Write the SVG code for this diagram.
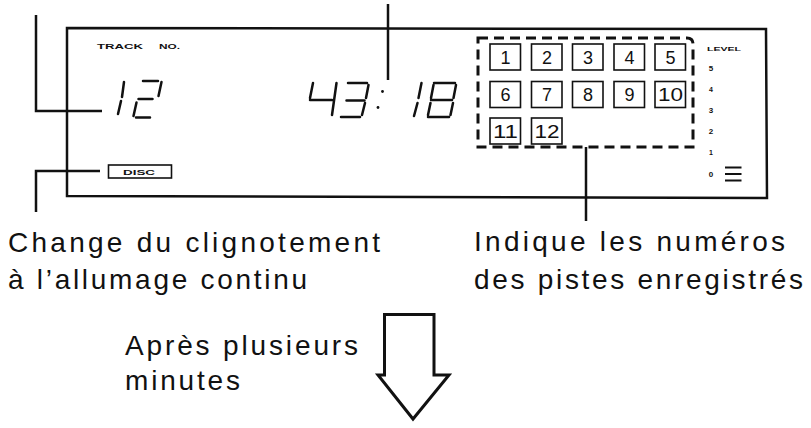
<svg xmlns="http://www.w3.org/2000/svg" width="811" height="428" viewBox="0 0 811 428">
<style>
.ln{stroke:#111;stroke-width:2.5;fill:none}
.seg{stroke:#111;stroke-width:2.5;stroke-linecap:round;fill:none}
.nb{stroke:#111;stroke-width:1.6;fill:none}
.num{font-family:"Liberation Sans",Arial,sans-serif;font-size:18px;fill:#111;text-anchor:middle}
.lbl{font-family:"Liberation Sans",Arial,sans-serif;font-size:28px;fill:#111}
.tiny{font-family:"Liberation Sans",Arial,sans-serif;font-weight:bold;fill:#111}
</style>
<rect width="811" height="428" fill="#fff"/>
<g id="panel">
<path class="ln" d="M67 28 L766 29 L767 198 L67 196 Z"/>
<text class="tiny" x="97" y="49" font-size="7.5" textLength="46" lengthAdjust="spacingAndGlyphs">TRACK</text>
<text class="tiny" x="159" y="49" font-size="7.5" textLength="21" lengthAdjust="spacingAndGlyphs">NO.</text>
</g>
<g id="track-digits">
<path class="seg" d="M124 82 L122 97 M121 101 L118 114"/>
<path class="seg" d="M143 81 L158 81 M161.5 82 L158.5 96 M138.5 99 L152.5 99 M136.5 102.5 L133.5 116 M136 117.5 L150 117.5"/>
</g>
<g id="time-digits">
<path class="seg" d="M313 83 L310 98 M310 100 L332 100 M336.5 83 L332 115"/>
<path class="seg" d="M348 83 L367 83 M368.5 85 L366 98 M346.5 100.5 L364.5 100.5 M365 103 L362 115 M341 117 L360 117"/>
<circle cx="382.5" cy="91.5" r="1.4" fill="#111"/>
<circle cx="378" cy="107.5" r="1.4" fill="#111"/>
<path class="seg" d="M421.5 83 L418.5 98 M417.5 103 L414 116"/>
<path class="seg" d="M434 83 L455 83 M433.5 85 L431 98 M456 85 L453.5 98 M431 100 L452 100 M430.5 103 L428 115 M453 103 L450.5 115 M428 117 L449 117"/>
</g>
<g id="disc">
<rect class="nb" x="108.5" y="165" width="63" height="13"/>
<text class="tiny" x="123" y="174.5" font-size="7" textLength="32" lengthAdjust="spacingAndGlyphs">DISC</text>
</g>
<g id="track-grid">
<path d="M478 38 L687 38 Q693 38 693 44 L693 147 L478 147 Z" stroke="#111" stroke-width="3" fill="none" stroke-dasharray="10 6"/>
<rect class="nb" x="490" y="44" width="30.5" height="26"/><text class="num" x="505.5" y="63.5">1</text>
<rect class="nb" x="531.5" y="44" width="30.5" height="26"/><text class="num" x="547" y="63.5">2</text>
<rect class="nb" x="572.5" y="44" width="30.5" height="26"/><text class="num" x="588" y="63.5">3</text>
<rect class="nb" x="614" y="44" width="30.5" height="26"/><text class="num" x="629.5" y="63.5">4</text>
<rect class="nb" x="655" y="44" width="30.5" height="26"/><text class="num" x="670.5" y="63.5">5</text>
<rect class="nb" x="490" y="81.5" width="30.5" height="26"/><text class="num" x="505.5" y="101">6</text>
<rect class="nb" x="531.5" y="81.5" width="30.5" height="26"/><text class="num" x="547" y="101">7</text>
<rect class="nb" x="572.5" y="81.5" width="30.5" height="26"/><text class="num" x="588" y="101">8</text>
<rect class="nb" x="614" y="81.5" width="30.5" height="26"/><text class="num" x="629.5" y="101">9</text>
<rect class="nb" x="655" y="81.5" width="30.5" height="26"/><text class="num" x="670.5" y="101" textLength="25" lengthAdjust="spacingAndGlyphs">10</text>
<rect class="nb" x="490" y="118" width="30.5" height="26"/><text class="num" x="505.5" y="137.5" textLength="25" lengthAdjust="spacingAndGlyphs">11</text>
<rect class="nb" x="531.5" y="118" width="30.5" height="26"/><text class="num" x="547" y="137.5" textLength="25" lengthAdjust="spacingAndGlyphs">12</text>
</g>
<g id="level">
<text class="tiny" x="707" y="51" font-size="6" textLength="34" lengthAdjust="spacingAndGlyphs">LEVEL</text>
<text class="tiny" x="711" y="70.5" font-size="8" text-anchor="middle">5</text>
<text class="tiny" x="711" y="91.5" font-size="7" text-anchor="middle">4</text>
<text class="tiny" x="711" y="112.5" font-size="8" text-anchor="middle">3</text>
<text class="tiny" x="711" y="133.5" font-size="8" text-anchor="middle">2</text>
<text class="tiny" x="711" y="154.5" font-size="7" text-anchor="middle">1</text>
<text class="tiny" x="711" y="176.5" font-size="8" text-anchor="middle">0</text>
<path d="M725 167.5 H741.5 M725 174 H741.5 M725 180.5 H741.5" stroke="#111" stroke-width="2.2"/>
</g>
<g id="connectors">
<path class="ln" d="M36 15 V111 H102"/>
<path class="ln" d="M100 171 H36 V212"/>
<path class="ln" d="M388 4 V80"/>
<path class="ln" d="M586 147 V221"/>
</g>
<g id="labels">
<text class="lbl" x="8" y="252" textLength="372" lengthAdjust="spacing">Change du clignotement</text>
<text class="lbl" x="8" y="289" textLength="299" lengthAdjust="spacing">à l’allumage continu</text>
<text class="lbl" x="474" y="251" textLength="311" lengthAdjust="spacing">Indique les numéros</text>
<text class="lbl" x="474" y="289" textLength="329" lengthAdjust="spacing">des pistes enregistrés</text>
<text class="lbl" x="125" y="355" textLength="233" lengthAdjust="spacing">Après plusieurs</text>
<text class="lbl" x="125" y="390" textLength="115" lengthAdjust="spacing">minutes</text>
</g>
<g id="arrow">
<path d="M384.5 314.5 H434 V375 H449 L413 419 L378 375 H384.5 Z" stroke="#111" stroke-width="3" fill="#fff" stroke-linejoin="miter"/>
</g>
</svg>
